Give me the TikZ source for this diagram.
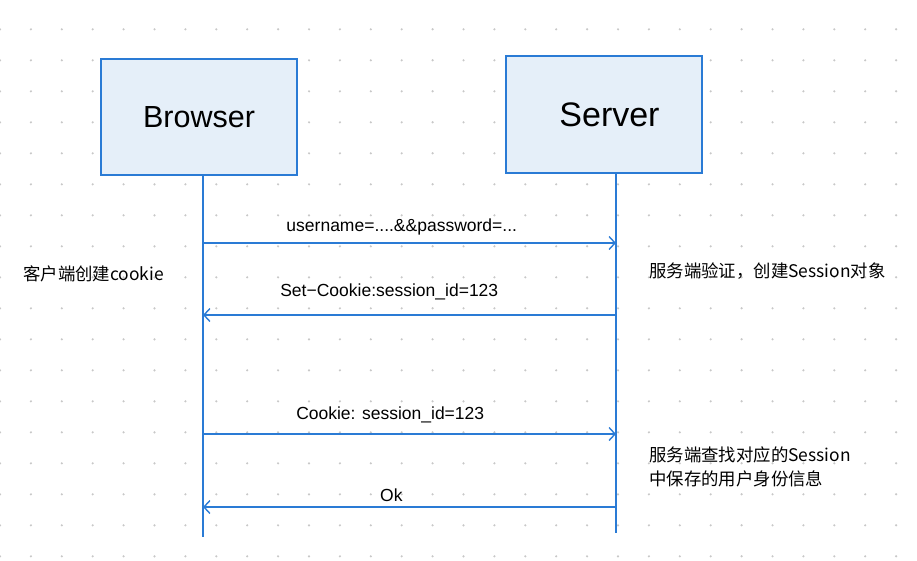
\documentclass[tikz,border=0pt]{standalone}
\usepackage{fontspec}
\setmainfont{Liberation Sans}
\newfontfamily\cjk{Noto Sans CJK SC}
\usetikzlibrary{arrows.meta,positioning}
\definecolor{ligne}{HTML}{2A7BD5}
\definecolor{fond}{HTML}{E5EFF9}
\definecolor{point}{HTML}{C8C8C8}
\tikzset{acteur/.style={
    draw=ligne,
    fill=fond,
    line width=1.5pt,
    minimum width=196pt},
  vie/.style={
    ligne,
    line width=1.4pt},
  msg/.style={
    ligne,
    line width=1.4pt,
    -{Straight Barb[length=6pt,width=13pt]}},
  lbl/.style={
    black,
    inner sep=0pt,
    anchor=base,
    font=\fontsize{17.5}{21}\selectfont},
  note/.style={
    black,
    inner sep=0pt,
    align=left,
    font=\cjk\fontsize{17.4}{24}\selectfont}}

\begin{document}
\begin{tikzpicture}[x=1pt, y=-1pt]

\useasboundingbox (0,0) rectangle (917,560);

\foreach \i in {0,...,29}
  \foreach \j in {0,...,17}
    \fill[point] (\i*30.9, 29.3+\j*31) circle (1.2pt);

\coordinate (B) at (199,117);
\coordinate (S) at (604,114.5);

\node[acteur,
  minimum height=116pt,
  font=\fontsize{30.5}{36}\selectfont] (browser) at (B) {Browser};

\node[acteur,
  minimum height=117pt,
  font=\fontsize{34}{40}\selectfont] (server) at (S) {\hspace{11pt}Server};

\coordinate (bHaut) at (203,175);
\coordinate (bBas) at (203,537);
\coordinate (sHaut) at (616,173);
\coordinate (sBas) at (616,533);

\draw[vie] (bHaut) -- (bBas);
\draw[vie] (sHaut) -- (sBas);

\coordinate (b1) at (204,243);
\coordinate (s1) at (616,243);
\coordinate (b2) at (203,315);
\coordinate (s2) at (616,315);
\coordinate (b3) at (204,434);
\coordinate (s3) at (616,434);
\coordinate (b4) at (203,507);
\coordinate (s4) at (616,507);

\draw[msg] (b1) -- (s1)
  node[lbl, pos=0.48, yshift=12pt] {username=....\&\&password=...};
\draw[msg] (s2) -- (b2)
  node[lbl, pos=0.549, yshift=19pt] {Set−Cookie:session\_id=123};
\draw[msg] (b3) -- (s3)
  node[lbl, pos=0.452, yshift=15pt] {Cookie: session\_id=123};
\draw[msg] (s4) -- (b4)
  node[lbl, pos=0.544, yshift=5.5pt] {Ok};

\node[note, anchor=west] (client) at (23,274) {客户端创建cookie};
\node[note, anchor=west] (verif) at (649,271) {服务端验证，创建Session对象};
\node[note, anchor=north west] (cherche) at (649,447) {服务端查找对应的Session\\中保存的用户身份信息};

\end{tikzpicture}
\end{document}
